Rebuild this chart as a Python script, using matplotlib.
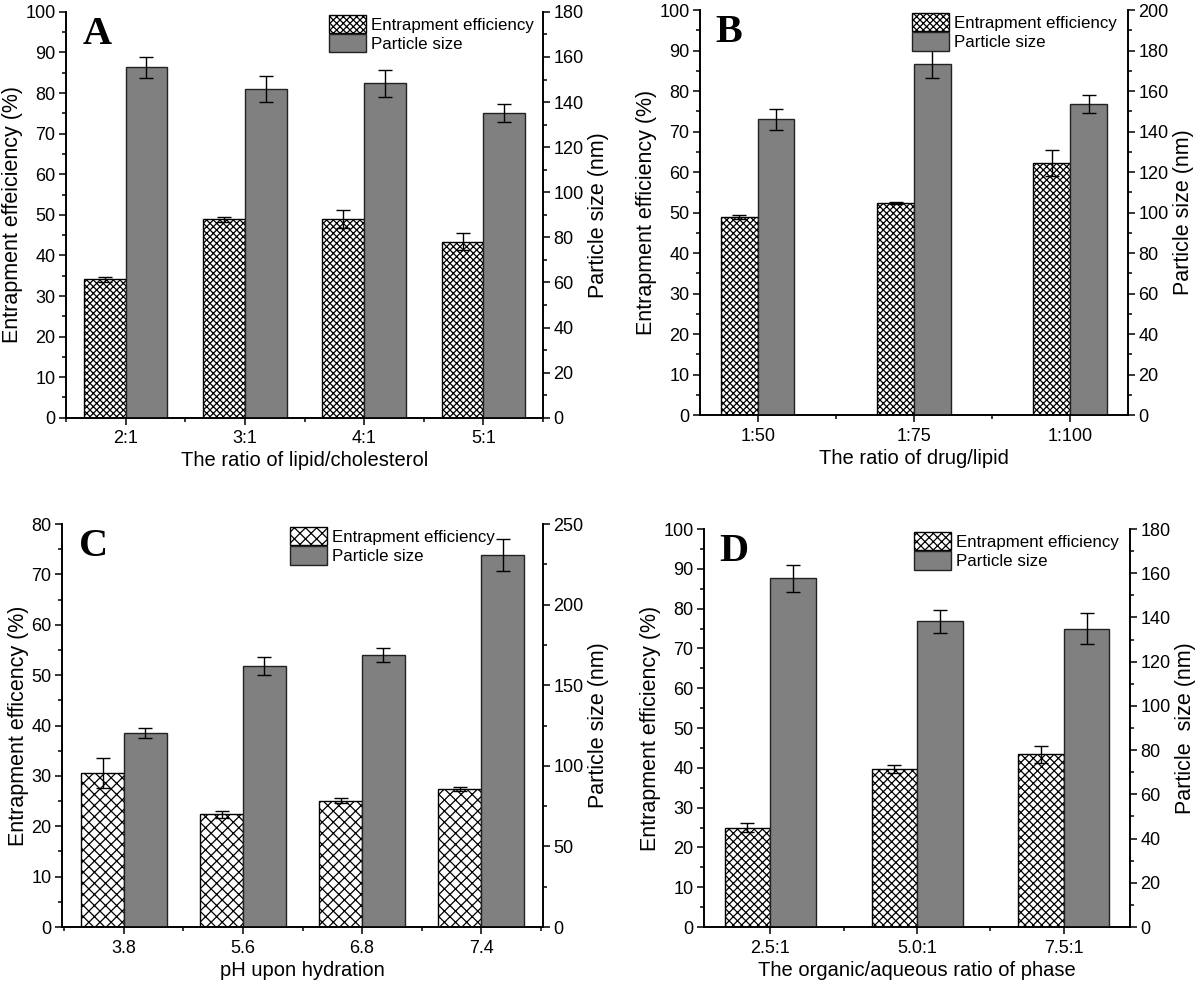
import numpy as np
import matplotlib.pyplot as plt
from matplotlib.ticker import MultipleLocator, FixedLocator

plt.rcParams['font.family'] = ['Liberation Sans', 'DejaVu Sans']
plt.rcParams['hatch.linewidth'] = 0.9

# panel A: lipid/cholesterol ratio
a_cats = ["2:1", "3:1", "4:1", "5:1"]
a_ee = [34.1, 48.9, 48.9, 43.4]
a_ee_err = [0.7, 0.6, 2.2, 2.1]
a_ps = [155.5, 145.8, 148.3, 135.2]
a_ps_err = [4.7, 5.8, 6.1, 3.9]

# panel B: drug/lipid ratio
b_cats = ["1:50", "1:75", "1:100"]
b_ee = [48.9, 52.4, 62.2]
b_ee_err = [0.6, 0.3, 3.2]
b_ps = [146.0, 173.6, 153.6]
b_ps_err = [5.2, 7.2, 4.3]

# panel C: pH upon hydration
c_cats = ["3.8", "5.6", "6.8", "7.4"]
c_ee = [30.6, 22.4, 25.1, 27.4]
c_ee_err = [2.9, 0.7, 0.5, 0.4]
c_ps = [120.3, 161.9, 168.8, 230.9]
c_ps_err = [3.1, 5.6, 4.4, 9.7]

# panel D: organic/aqueous phase ratio
d_cats = ["2.5:1", "5.0:1", "7.5:1"]
d_ee = [25.0, 39.7, 43.4]
d_ee_err = [1.2, 1.1, 2.1]
d_ps = [157.7, 138.2, 135.0]
d_ps_err = [6.1, 5.2, 7.0]

GRAY = "#808080"


def panel(rect, letter, cats, ee, ee_err, ps, ps_err, ee_max, ps_max, ps_major,
          xlabel, ylabel, ylabel2, pad, width, hatch, leg_x):
    ax = fig.add_axes(rect)
    x = np.arange(1, len(cats) + 1)
    ax.bar(x - width / 2, ee, width, color="white", edgecolor="black",
           hatch=hatch, linewidth=1.0, label="Entrapment efficiency", zorder=2)
    ax.errorbar(x - width / 2, ee, yerr=ee_err, fmt="none", ecolor="black",
                elinewidth=1.0, capsize=5, capthick=1.0, zorder=3)
    ax2 = ax.twinx()
    ax2.bar(x + width / 2, ps, width, color=GRAY, edgecolor="#222222",
            linewidth=1.0, label="Particle size", zorder=2)
    ax2.errorbar(x + width / 2, ps, yerr=ps_err, fmt="none", ecolor="black",
                 elinewidth=1.0, capsize=5, capthick=1.0, zorder=3)

    ax.set_xlim(1 - pad, len(cats) + pad)
    ax.set_ylim(0, ee_max)
    ax2.set_ylim(0, ps_max)
    ax.set_xticks(x)
    ax.set_xticklabels(cats)
    ax.xaxis.set_minor_locator(FixedLocator(np.arange(0.5, len(cats) + 1, 1.0)))
    ax.yaxis.set_major_locator(MultipleLocator(10))
    ax.yaxis.set_minor_locator(MultipleLocator(5))
    ax2.yaxis.set_major_locator(MultipleLocator(ps_major))
    ax2.yaxis.set_minor_locator(MultipleLocator(ps_major / 2))

    for a in (ax, ax2):
        a.spines["top"].set_visible(False)
        for s in a.spines.values():
            s.set_linewidth(1.2)
        a.tick_params(which="major", direction="out", length=5, width=1.1,
                      labelsize=13, pad=2.5)
        a.tick_params(which="minor", direction="out", length=3, width=1.1)
    ax.tick_params(axis="x", pad=4)

    ax.set_xlabel(xlabel, fontsize=14.5, labelpad=3)
    ax.set_ylabel(ylabel, fontsize=15.5, labelpad=2)
    ax2.set_ylabel(ylabel2, fontsize=15.5, labelpad=3)

    ax.text(0.035, 0.99, letter, transform=ax.transAxes, ha="left", va="top",
            fontsize=29, fontweight="bold", family="Liberation Serif")

    h1, l1 = ax.get_legend_handles_labels()
    h2, l2 = ax2.get_legend_handles_labels()
    ax2.legend(h1 + h2, l1 + l2, loc="upper right", bbox_to_anchor=(leg_x, 1.01),
               frameon=False, fontsize=12.2, handlelength=2.2, handleheight=1.3,
               handletextpad=0.3, labelspacing=0.05, borderaxespad=0.0)
    return ax, ax2


fig = plt.figure(figsize=(12, 9.9), dpi=100)

panel([0.055, 0.578, 0.3975, 0.410], "A", a_cats, a_ee, a_ee_err, a_ps, a_ps_err,
      100, 180, 20, "The ratio of lipid/cholesterol", "Entrapment effeiciency (%)",
      "Particle size (nm)", 0.5, 0.35, "xxxxx", 0.995)
panel([0.5833, 0.5808, 0.3567, 0.409], "B", b_cats, b_ee, b_ee_err, b_ps, b_ps_err,
      100, 200, 20, "The ratio of drug/lipid", "Entrapment efficiency (%)",
      "Particle size (nm)", 0.37, 0.235, "xxxxx", 0.99)
panel([0.0517, 0.0636, 0.4008, 0.407], "C", c_cats, c_ee, c_ee_err, c_ps, c_ps_err,
      80, 250, 50, "pH upon hydration", "Entrapment efficency (%)",
      "Particle size (nm)", 0.52, 0.36, "xxx", 0.915)
panel([0.5867, 0.0636, 0.355, 0.402], "D", d_cats, d_ee, d_ee_err, d_ps, d_ps_err,
      100, 180, 20, "The organic/aqueous ratio of phase", "Entrapment efficiency (%)",
      "Particle  size (nm)", 0.45, 0.31, "xxxx", 0.99)

fig.savefig("out.png", dpi=100)
